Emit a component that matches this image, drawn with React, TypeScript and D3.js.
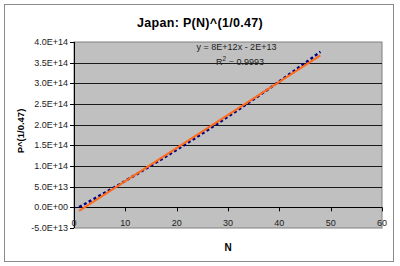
import React from "react";
import * as d3 from "d3";

const nValues = [1,2,3,4,5,6,7,8,9,10,11,12,13,14,15,16,17,18,19,20,21,22,23,24,25,26,27,28,29,30,31,32,33,34,35,36,37,38,39,40,41,42,43,44,45,46,47,48];
// P(N)^(1/0.47), in units of 1E13
const pValuesE13 = [0.05,0.74,1.43,2.12,2.82,3.53,4.24,4.95,5.67,6.40,7.13,7.86,8.60,9.35,10.10,10.85,11.61,12.38,13.15,13.92,14.70,15.49,16.28,17.07,17.87,18.68,19.49,20.30,21.12,21.95,22.78,23.61,24.45,25.30,26.15,27.00,27.86,28.73,29.60,30.47,31.35,32.24,33.13,34.02,34.92,35.83,36.74,37.65];
const yTicks = [-5e13,0,5e13,1e14,1.5e14,2e14,2.5e14,3e14,3.5e14,4e14];
const yTickLabels = ["-5.0E+13","0.0E+00","5.0E+13","1.0E+14","1.5E+14","2.0E+14","2.5E+14","3.0E+14","3.5E+14","4.0E+14"];
const xTicks = [0,10,20,30,40,50,60];
const titleText = "Japan: P(N)^(1/0.47)";
const yTitle = "P^(1/0.47)";
const xTitle = "N";
const equationText = "y = 8E+12x - 2E+13";
const r2Value = "0.9993";

export default function App() {
  const W = 400, H = 266;
  const left = 74, right = 382, top = 42, bottom = 228;
  const x = d3.scaleLinear().domain([0, 60]).range([left, right]);
  const y = d3.scaleLinear().domain([-5e13, 4e14]).range([bottom, top]);
  const data = nValues.map((n, i) => ({ n, v: pValuesE13[i] * 1e13 }));

  // least squares trendline
  const mx = d3.mean(data, d => d.n)!;
  const my = d3.mean(data, d => d.v)!;
  const sxy = d3.sum(data, d => (d.n - mx) * (d.v - my));
  const sxx = d3.sum(data, d => (d.n - mx) * (d.n - mx));
  const b = sxy / sxx;
  const a = my - b * mx;
  const n0 = nValues[0], n1 = nValues[nValues.length - 1];

  const line = d3.line<{ n: number; v: number }>().x(d => x(d.n)).y(d => y(d.v));
  const font = "Arial, 'Liberation Sans', sans-serif";
  const y0 = y(0);

  return (
    <svg width={W} height={H} style={{ position: "absolute", left: 0, top: 0, background: "#fff" }} fontFamily={font}>
      <rect x={0} y={0} width={W} height={H} fill="#fff" />
      <rect x={4.5} y={4.5} width={389} height={257} fill="#fff" stroke="#8a8a8a" strokeWidth={1} />
      <text x={200} y={26.5} textAnchor="middle" fontSize={12.5} fontWeight="bold" fill="#000" letterSpacing={0.3}>{titleText}</text>
      <rect x={left} y={top} width={right - left} height={bottom - top} fill="#c0c0c0" stroke="#808080" strokeWidth={1} />
      {yTicks.filter(t => t !== -5e13 && t !== 4e14).map((t, i) => (
        <line key={"g" + i} x1={left} x2={right} y1={Math.round(y(t)) + 0.5} y2={Math.round(y(t)) + 0.5} stroke="#1a1a1a" strokeWidth={1} />
      ))}
      {/* y axis */}
      <line x1={left + 0.5} x2={left + 0.5} y1={top} y2={bottom} stroke="#000" />
      {yTicks.map((t, i) => (
        <g key={"yt" + i}>
          <line x1={left - 4} x2={left} y1={Math.round(y(t)) + 0.5} y2={Math.round(y(t)) + 0.5} stroke="#000" />
          <text x={68} y={y(t)} dy="0.35em" textAnchor="end" fontSize={9} fill="#222">{yTickLabels[i]}</text>
        </g>
      ))}
      {/* x axis at y=0 */}
      <line x1={left} x2={right} y1={Math.round(y0) + 0.5} y2={Math.round(y0) + 0.5} stroke="#000" />
      {xTicks.map((t, i) => (
        <g key={"xt" + i}>
          <line x1={Math.round(x(t)) + 0.5} x2={Math.round(x(t)) + 0.5} y1={y0} y2={y0 + 4} stroke="#000" />
          <text x={x(t)} y={223} dy="0.35em" textAnchor="middle" fontSize={9} fill="#222">{t}</text>
        </g>
      ))}
      {/* series */}
      <path d={line(data) || ""} fill="none" stroke="#000080" strokeWidth={2.5} strokeDasharray="3,2.5" />
      {/* trendline */}
      <line x1={x(n0)} y1={y(a + b * n0)} x2={x(n1)} y2={y(a + b * n1)} stroke="#ff6a1a" strokeWidth={2} />
      <text x={236.5} y={47} dy="0.35em" textAnchor="middle" fontSize={9} fill="#222">{equationText}</text>
      <text x={240} y={62} dy="0.35em" textAnchor="middle" fontSize={9} fill="#222">
        R<tspan fontSize={6.5} dy="-4">2</tspan><tspan dy="4"> = {r2Value}</tspan>
      </text>
      <text transform={`translate(24,${(top + bottom) / 2 - 4}) rotate(-90)`} textAnchor="middle" fontSize={9.5} fontWeight="bold" fill="#000">{yTitle}</text>
      <text x={(left + right) / 2} y={251} textAnchor="middle" fontSize={10} fontWeight="bold" fill="#000">{xTitle}</text>
    </svg>
  );
}
